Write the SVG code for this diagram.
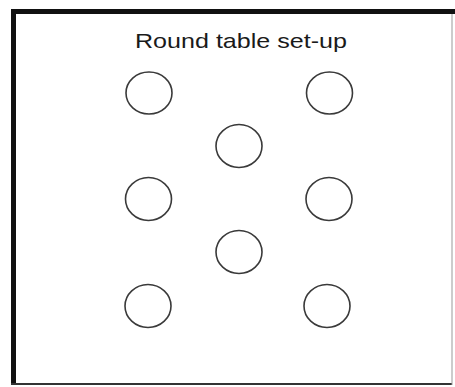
<svg xmlns="http://www.w3.org/2000/svg" width="455" height="387" viewBox="0 0 455 387">
<style>
.t{fill:none;stroke:#3a3a3a;stroke-width:1.6}
.lbl{font-family:"Liberation Sans",Arial,sans-serif;font-size:21px;fill:#1a1a1a}
</style>
<rect width="455" height="387" fill="#fff"/>
<g id="frame">
<line x1="11" y1="11.5" x2="455" y2="11.5" stroke="#111" stroke-width="5"/>
<line x1="13.5" y1="9" x2="13.5" y2="385" stroke="#111" stroke-width="5"/>
<line x1="11" y1="384" x2="452" y2="384" stroke="#333" stroke-width="2"/>
<line x1="452" y1="14" x2="452" y2="385" stroke="#999" stroke-width="1"/>
</g>
<text class="lbl" x="135" y="47.5" textLength="212" lengthAdjust="spacingAndGlyphs">Round table set-up</text>
<g id="t1"><ellipse class="t" cx="149" cy="93" rx="23" ry="21"/></g>
<g id="t2"><ellipse class="t" cx="329.5" cy="93" rx="23" ry="21"/></g>
<g id="t3"><ellipse class="t" cx="239" cy="146" rx="23" ry="21.5"/></g>
<g id="t4"><ellipse class="t" cx="148.5" cy="199" rx="23" ry="21.5"/></g>
<g id="t5"><ellipse class="t" cx="329" cy="199" rx="23" ry="21.5"/></g>
<g id="t6"><ellipse class="t" cx="239" cy="252" rx="23" ry="21.5"/></g>
<g id="t7"><ellipse class="t" cx="148" cy="306" rx="23" ry="21.5"/></g>
<g id="t8"><ellipse class="t" cx="327" cy="306" rx="23" ry="21.5"/></g>
<g id="connectors"></g>
</svg>
